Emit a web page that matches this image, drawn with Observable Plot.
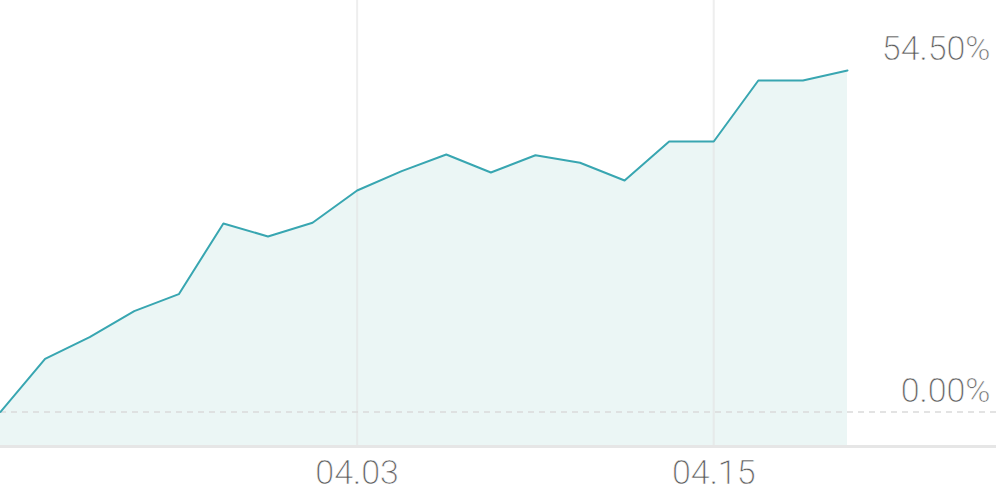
<!DOCTYPE html>
<html>
<head>
<meta charset="utf-8">
<script src="https://cdn.jsdelivr.net/npm/d3@7"></script>
<script src="https://cdn.jsdelivr.net/npm/@observablehq/plot@0.6"></script>
<style>
  html, body { margin: 0; padding: 0; background: #fff; }
  #chart svg { display: block; }
</style>
</head>
<body>
<div id="chart"></div>
<script>
// Cumulative return (%) per trading day
const values = [0, 8.49, 11.94, 16.09, 18.80, 30.08, 28.01, 30.19, 35.35, 38.43,
                41.10, 38.22, 40.98, 39.77, 36.95, 43.17, 43.17, 52.90, 52.90, 54.50];
const tickIndex = [8, 16];
const tickLabels = ["04.03", "04.15"];
const yLabelValues = [0, 54.5];
const yLabelTexts = ["0.00%", "54.50%"];

const data = values.map((v, i) => ({i, v}));
const ticks = tickIndex.map((i, k) => ({i, label: tickLabels[k]}));
const yLabels = yLabelValues.map((v, k) => ({v, label: yLabelTexts[k]}));

const yMin = -5.51, yMax = 65.67;
const font = "'Roboto Light', Roboto, 'Noto Sans', sans-serif";
// thin white outline painted over the glyphs to mimic a light weight
const textStyle = {fontSize: 34, fontWeight: 300, fill: "#5a5a5a",
  stroke: "white", strokeWidth: 0.5, paintOrder: "normal"};

const chart = Plot.plot({
  width: 996,
  height: 490,
  marginTop: 0,
  marginRight: 0,
  marginBottom: 44,
  marginLeft: 0,
  x: {domain: [0, 19 * 996 / 847], axis: null},
  y: {domain: [yMin, yMax], axis: null},
  style: {fontFamily: font, background: "#fff", overflow: "visible"},
  marks: [
    Plot.areaY(data, {x: "i", y1: yMin, y2: "v", fill: "#ebf6f5"}),
    Plot.ruleX(tickIndex, {stroke: "#e3e3e3", strokeOpacity: 0.6, strokeWidth: 2}),
    Plot.ruleY([0], {stroke: "#dadada", strokeWidth: 1.6, strokeDasharray: "6,5"}),
    Plot.ruleY([yMin], {stroke: "#e6e6e6", strokeWidth: 3}),
    Plot.lineY(data, {x: "i", y: "v", stroke: "#38a6b1", strokeWidth: 2}),
    Plot.text(ticks, {x: "i", text: "label", frameAnchor: "bottom", lineAnchor: "top", dy: 13,
      ...textStyle}),
    Plot.text(yLabels, {y: "v", text: "label", frameAnchor: "right", textAnchor: "end",
      lineAnchor: "bottom", dx: -6, dy: -10, ...textStyle})
  ]
});
document.getElementById("chart").appendChild(chart);
</script>
</body>
</html>
